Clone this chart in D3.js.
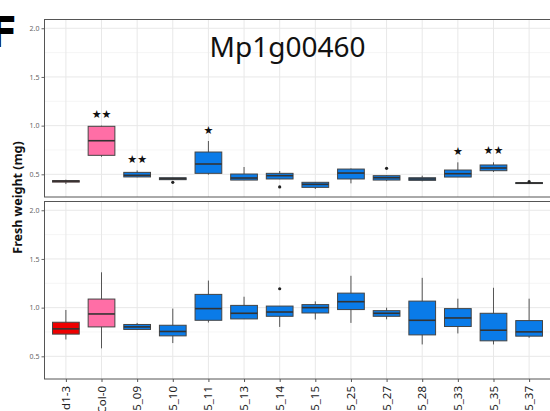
<!DOCTYPE html>
<html><head><meta charset="utf-8">
<script src="https://cdn.jsdelivr.net/npm/d3@7"></script>
<style>body{margin:0;background:#fff;} svg{display:block;}</style>
</head><body>
<script>
const categories = ["d1-3","Col-0","5_09","5_10","5_11","5_13","5_14","5_15","5_25","5_27","5_28","5_33","5_35","5_37"];
const groups = ["mut","wt","line","line","line","line","line","line","line","line","line","line","line","line"];
const yTicks = [0.5, 1.0, 1.5, 2.0];
const title = "Mp1g00460";

// top panel: [whiskerLow, q1, median, q3, whiskerHigh]
const topStats = [
  [0.40,0.42,0.43,0.435,0.445],
  [0.68,0.695,0.845,0.993,1.0],
  [0.47,0.473,0.49,0.52,0.54],
  [0.445,0.445,0.455,0.465,0.465],
  [0.496,0.51,0.606,0.729,0.842],
  [0.44,0.441,0.462,0.503,0.575],
  [0.45,0.452,0.486,0.51,0.534],
  [0.349,0.366,0.397,0.418,0.42],
  [0.407,0.452,0.513,0.554,0.56],
  [0.43,0.441,0.465,0.486,0.49],
  [0.428,0.438,0.452,0.465,0.486],
  [0.472,0.472,0.506,0.544,0.623],
  [0.524,0.537,0.565,0.596,0.623],
  [0.405,0.405,0.41,0.415,0.415]
];
const topOutliers = [[],[],[],[0.418],[],[],[0.37],[],[],[0.562],[],[],[],[0.424]];
const sigLabels = ["","★★","★★","","★","","","","","","","★","★★",""];
const sigValues = [0,1.117,0.654,0,0.955,0,0,0,0,0,0,0.739,0.75,0];

// bottom panel
const botStats = [
  [0.673,0.728,0.782,0.85,0.976],
  [0.582,0.802,0.935,1.088,1.363],
  [0.77,0.776,0.802,0.827,0.843],
  [0.636,0.71,0.755,0.819,0.99],
  [0.847,0.87,0.99,1.136,1.278],
  [0.884,0.884,0.942,1.023,1.112],
  [0.802,0.911,0.955,1.016,1.016],
  [0.878,0.945,1.0,1.031,1.064],
  [0.843,0.98,1.061,1.149,1.327],
  [0.88,0.911,0.942,0.969,1.0],
  [0.622,0.72,0.87,1.067,1.306],
  [0.735,0.806,0.894,0.99,1.092],
  [0.622,0.659,0.768,0.942,1.204],
  [0.69,0.707,0.751,0.867,1.092]
];
const botOutliers = [[],[],[],[],[],[],[1.194],[],[],[],[],[],[],[]];

const W = 550, H = 411;
const svg = d3.select("body").append("svg").attr("width", W).attr("height", H)
  .style("font-family", "'Noto Sans', 'Open Sans', sans-serif");

const fillColor = d3.scaleOrdinal().domain(["mut","wt","line"]).range(["#EE0000","#FF6EA6","#0A7BE8"]);
const x = d3.scalePoint().domain(categories).range([44.5, 550.5]).padding(0.6);
const step = x.step();
const boxW = step * 0.75;
const yDomain = [0.267, 2.09];

function panel(y0, y1, stats, outliers, withSig, showXAxis) {
  const y = d3.scaleLinear().domain(yDomain).range([y1, y0]);
  const g = svg.append("g");
  const minor = [0.75, 1.25, 1.75];
  g.selectAll(".mn").data(minor).join("line")
    .attr("x1", 44.5).attr("x2", 550.5).attr("y1", d => y(d)).attr("y2", d => y(d))
    .attr("stroke", "#f3f3f3").attr("stroke-width", 0.8);
  g.selectAll(".mj").data(yTicks).join("line")
    .attr("x1", 44.5).attr("x2", 550.5).attr("y1", d => y(d)).attr("y2", d => y(d))
    .attr("stroke", "#e8e8e8").attr("stroke-width", 1);
  g.selectAll(".vg").data(categories).join("line")
    .attr("x1", d => x(d)).attr("x2", d => x(d)).attr("y1", y0).attr("y2", y1)
    .attr("stroke", "#e8e8e8").attr("stroke-width", 1);

  const ya = g.append("g").attr("transform", "translate(44.5,0)")
    .call(d3.axisLeft(y).tickValues(yTicks).tickFormat(d3.format(".1f")).tickSize(3).tickPadding(2));
  ya.select(".domain").remove();
  ya.selectAll("line").attr("stroke", "#666");
  ya.selectAll("text").attr("fill", "#666").style("font-size", "7px").style("font-family", "'Noto Sans', sans-serif");

  const bx = g.selectAll(".bx").data(stats).join("g");
  bx.append("line")
    .attr("x1", (d,i) => x(categories[i])).attr("x2", (d,i) => x(categories[i]))
    .attr("y1", d => y(d[0])).attr("y2", d => y(d[4]))
    .attr("stroke", "#555").attr("stroke-width", 1);
  bx.append("rect")
    .attr("x", (d,i) => x(categories[i]) - boxW/2).attr("width", boxW)
    .attr("y", d => y(d[3])).attr("height", d => Math.max(0.5, y(d[1]) - y(d[3])))
    .attr("fill", (d,i) => fillColor(groups[i])).attr("stroke", "#444").attr("stroke-width", 1);
  bx.append("line")
    .attr("x1", (d,i) => x(categories[i]) - boxW/2).attr("x2", (d,i) => x(categories[i]) + boxW/2)
    .attr("y1", d => y(d[2])).attr("y2", d => y(d[2]))
    .attr("stroke", "#333").attr("stroke-width", 1.6);
  outliers.forEach((arr, i) => {
    g.selectAll(null).data(arr).join("circle")
      .attr("cx", x(categories[i])).attr("cy", d => y(d)).attr("r", 1.6).attr("fill", "#222");
  });
  if (withSig) {
    g.selectAll(".sig").data(sigLabels).join("text")
      .attr("x", (d,i) => x(categories[i])).attr("y", (d,i) => y(sigValues[i]) + 4)
      .attr("text-anchor", "middle").style("font-size", "11px").attr("fill", "#111")
      .style("font-family", "'DejaVu Sans', sans-serif").text(d => d);
  }
  g.append("rect").attr("x", 44.5).attr("y", y0).attr("width", 506).attr("height", y1 - y0)
    .attr("fill", "none").attr("stroke", "#555").attr("stroke-width", 1);

  if (showXAxis) {
    const xa = g.append("g").attr("transform", `translate(0,${y1})`)
      .call(d3.axisBottom(x).tickSize(3).tickFormat(""));
    xa.select(".domain").remove();
    xa.selectAll("line").attr("stroke", "#555");
    g.selectAll(".xl").data(categories).join("text")
      .attr("transform", d => `translate(${x(d)},${y1 + 7}) rotate(-90)`)
      .attr("text-anchor", "end").attr("dy", "0.35em")
      .style("font-size", "11.5px").attr("fill", "#222").text(d => d);
  }
  return y;
}

panel(19.5, 197, topStats, topOutliers, true, false);
panel(201.5, 379, botStats, botOutliers, false, true);

svg.append("text").attr("x", 287.5).attr("y", 57).attr("text-anchor", "middle")
  .style("font-size", "28px").attr("fill", "#111").text(title);

svg.append("text").attr("transform", "translate(22,197.5) rotate(-90)")
  .attr("text-anchor", "middle").style("font-size", "12.5px").style("font-weight", "bold")
  .attr("fill", "#111").text("Fresh weight (mg)");

svg.append("text").attr("x", -11).attr("y", 47).style("font-size", "42px")
  .style("font-weight", "bold").style("font-family", "'DejaVu Sans', sans-serif")
  .attr("fill", "#000").text("F");
</script>
</body></html>
